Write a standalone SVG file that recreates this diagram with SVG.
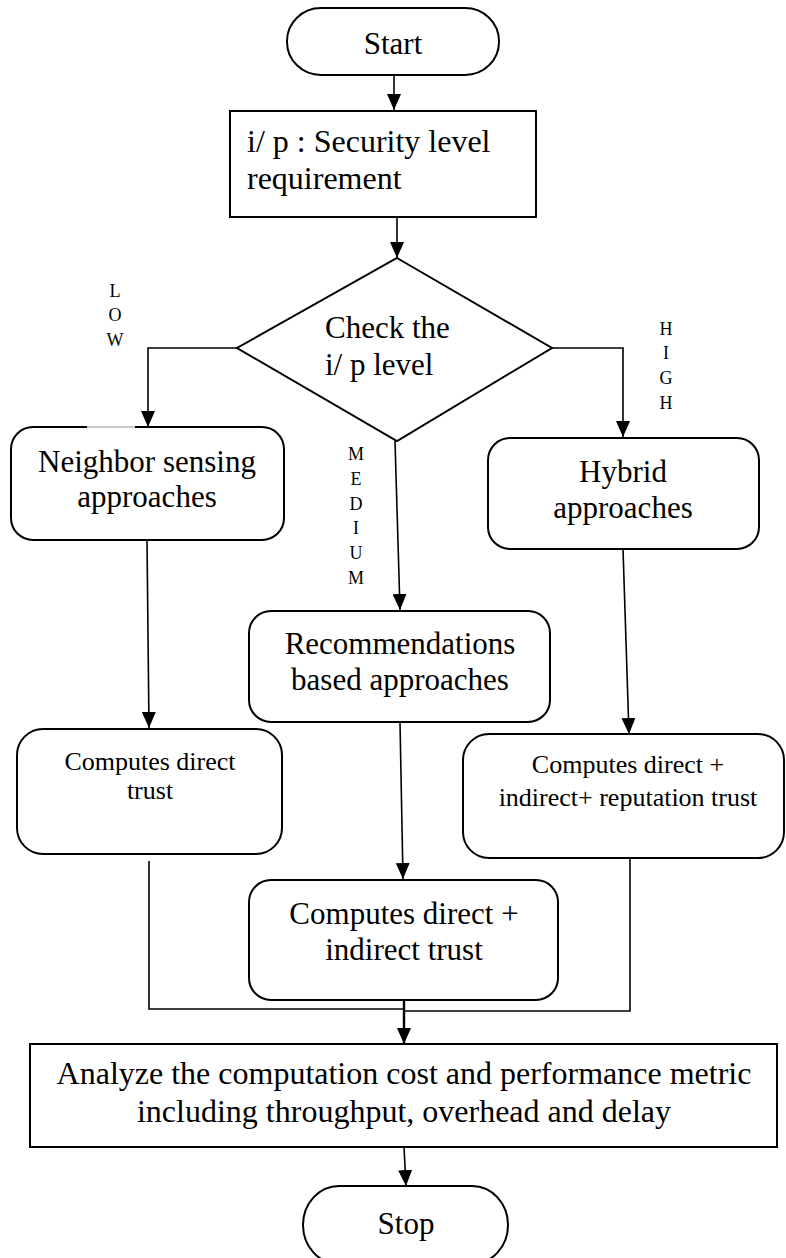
<svg xmlns="http://www.w3.org/2000/svg" width="786" height="1258" viewBox="0 0 786 1258">
  <defs>
    <marker id="arrow" markerUnits="userSpaceOnUse" markerWidth="16" markerHeight="14" refX="16" refY="7" orient="auto">
      <path d="M0,0 L16,7 L0,14 z" fill="#000"/>
    </marker>
    <style>
      .shape { fill: #fff; stroke: #000; stroke-width: 2; }
      .conn { fill: none; stroke: #000; stroke-width: 1.6; }
      .arr { marker-end: url(#arrow); }
      text { font-family: "Liberation Serif", "Times New Roman", serif; fill: #000; }
      .t { font-size: 31px; text-anchor: middle; }
      .s { font-size: 26px; text-anchor: middle; }
      .lbl { font-size: 18px; text-anchor: middle; }
    </style>
  </defs>

  <rect width="786" height="1258" fill="#fff"/>

  <!-- connectors -->
  <g id="connectors">
    <line class="conn arr" x1="394" y1="75" x2="394" y2="110"/>
    <line class="conn arr" x1="397" y1="217" x2="397" y2="258"/>
    <!-- LOW -->
    <polyline class="conn arr" points="237,348 148,348 148,427"/>
    <!-- HIGH -->
    <polyline class="conn arr" points="552,348 623,348 623,437"/>
    <!-- MEDIUM -->
    <line class="conn arr" x1="395" y1="441" x2="400" y2="610"/>
    <line class="conn arr" x1="147" y1="540" x2="149" y2="728"/>
    <line class="conn arr" x1="623" y1="549" x2="629" y2="734"/>
    <line class="conn arr" x1="400" y1="722" x2="403" y2="879"/>
    <!-- merge into analysis step -->
    <polyline class="conn" points="149,861 149,1009 404,1009"/>
    <polyline class="conn" points="630,858 630,1011 404,1011"/>
    <line class="conn arr" x1="404" y1="1000" x2="404" y2="1044" style="stroke-width:2.4"/>
    <line class="conn arr" x1="404" y1="1147" x2="406" y2="1186"/>
  </g>

  <g id="start">
    <rect class="shape" x="287" y="8" width="212" height="67" rx="34" ry="33"/>
    <text class="t" x="393" y="54">Start</text>
  </g>

  <g id="input">
    <rect class="shape" x="230" y="111" width="306" height="106"/>
    <text x="247" y="152" font-size="32">i/ p : Security level</text>
    <text x="247" y="189" font-size="32">requirement</text>
  </g>

  <g id="decision">
    <polygon class="shape" points="397,258 552,348 397,441 237,348"/>
    <text x="325" y="338" font-size="31">Check the</text>
    <text x="325" y="375" font-size="31">i/ p level</text>
  </g>

  <g id="labels">
    <text class="lbl" x="115" y="297">L</text>
    <text class="lbl" x="115" y="321">O</text>
    <text class="lbl" x="115" y="346">W</text>
    <text class="lbl" x="666" y="335">H</text>
    <text class="lbl" x="666" y="359">I</text>
    <text class="lbl" x="666" y="384">G</text>
    <text class="lbl" x="666" y="409">H</text>
    <text class="lbl" x="356" y="460">M</text>
    <text class="lbl" x="356" y="485">E</text>
    <text class="lbl" x="356" y="510">D</text>
    <text class="lbl" x="356" y="534">I</text>
    <text class="lbl" x="356" y="559">U</text>
    <text class="lbl" x="356" y="584">M</text>
  </g>

  <g id="neighbor">
    <rect class="shape" x="11" y="427" width="273" height="113" rx="22"/>
    <line x1="87" y1="427" x2="135" y2="427" stroke="#c8c8c8" stroke-width="2"/>
    <text class="t" x="147" y="472">Neighbor sensing</text>
    <text class="t" x="147" y="507">approaches</text>
  </g>

  <g id="hybrid">
    <rect class="shape" x="488" y="438" width="271" height="111" rx="22"/>
    <text class="t" x="623" y="482">Hybrid</text>
    <text class="t" x="623" y="518">approaches</text>
  </g>

  <g id="recommendation">
    <rect class="shape" x="249" y="611" width="301" height="111" rx="22"/>
    <text class="t" x="400" y="654">Recommendations</text>
    <text class="t" x="400" y="690">based approaches</text>
  </g>

  <g id="direct">
    <rect class="shape" x="17" y="729" width="265" height="125" rx="26"/>
    <text class="s" x="150" y="770">Computes direct</text>
    <text class="s" x="150" y="799">trust</text>
  </g>

  <g id="reputation">
    <rect class="shape" x="463" y="734" width="321" height="124" rx="26"/>
    <text class="s" x="628" y="773">Computes direct +</text>
    <text class="s" x="628" y="806">indirect+ reputation trust</text>
  </g>

  <g id="indirect">
    <rect class="shape" x="249" y="880" width="309" height="120" rx="22"/>
    <text class="t" x="404" y="924">Computes direct +</text>
    <text class="t" x="404" y="960">indirect trust</text>
  </g>

  <g id="analyze">
    <rect class="shape" x="30" y="1044" width="747" height="103"/>
    <text x="404" y="1084" font-size="32" text-anchor="middle">Analyze the computation cost and performance metric</text>
    <text x="404" y="1122" font-size="32" text-anchor="middle">including throughput, overhead and delay</text>
  </g>

  <g id="stop">
    <!-- the terminator runs past the lower edge of the sheet -->
    <rect class="shape" x="303" y="1186" width="205" height="78" rx="36" ry="39"/>
    <text class="t" x="406" y="1234">Stop</text>
  </g>
</svg>
